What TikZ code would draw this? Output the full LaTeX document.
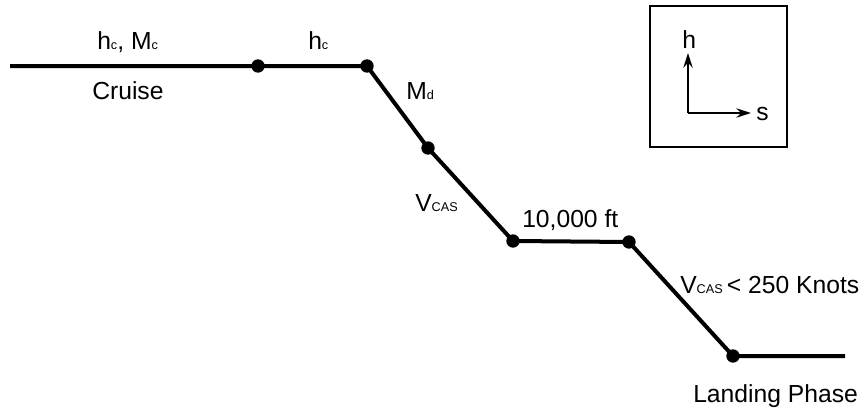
\documentclass[tikz,border=0pt]{standalone}
\usepackage{fontspec}
\setmainfont{Liberation Sans}
\usetikzlibrary{arrows.meta}
\newcommand\sbx[1]{{\fontsize{9.5}{10}\selectfont #1}}
\begin{document}
\begin{tikzpicture}[x=0.75pt,y=-0.75pt,
  path/.style={line width=3pt},
  dot/.style={circle,fill=black,inner sep=0pt,minimum size=10pt},
  lbl/.style={anchor=base west,inner sep=0pt,font=\fontsize{18.5}{20}\selectfont},
  axis/.style={line width=1.2pt,-{Stealth[length=11pt,width=7pt]}}]
\useasboundingbox (0,0) rectangle (866,407);
\coordinate (start) at (10,66);
\node[dot] (a) at (258,66) {};
\node[dot] (b) at (367,66) {};
\node[dot] (c) at (428,148) {};
\node[dot] (d) at (513,241) {};
\node[dot] (e) at (629,242) {};
\node[dot] (f) at (733,356) {};
\coordinate (end) at (845,356);
\draw[path] (start) -- (a.center) -- (b.center) -- (c.center) -- (d.center) -- (e.center) -- (f.center) -- (end);
\node[lbl] (l1) at (97,49) {h\sbx{c}, M\sbx{c}};
\node[lbl] (l2) at (308,49) {h\sbx{c}};
\node[lbl] (l3) at (92,99) {Cruise};
\node[lbl] (l4) at (406,99) {M\sbx{d}};
\node[lbl] (l5) at (415,211) {V\sbx{CAS}};
\node[lbl] (l6) at (522,227) {10,000 ft};
\node[lbl] (l7) at (680,293) {V\sbx{CAS}\,< 250 Knots};
\node[lbl] (l8) at (693,402) {Landing Phase};
\node[draw,line width=1.1pt,minimum width=102.75pt,minimum height=105.75pt,inner sep=0pt] (box) at (718.5,76.5) {};
\coordinate (o) at (688,113);
\coordinate (hy) at (688,53);
\coordinate (sx) at (751,113);
\draw[axis] (o) -- (hy);
\draw[axis] (o) -- (sx);
\node[lbl] (h) at (682,48) {h};
\node[lbl] (s) at (756,120) {s};
\end{tikzpicture}
\end{document}
